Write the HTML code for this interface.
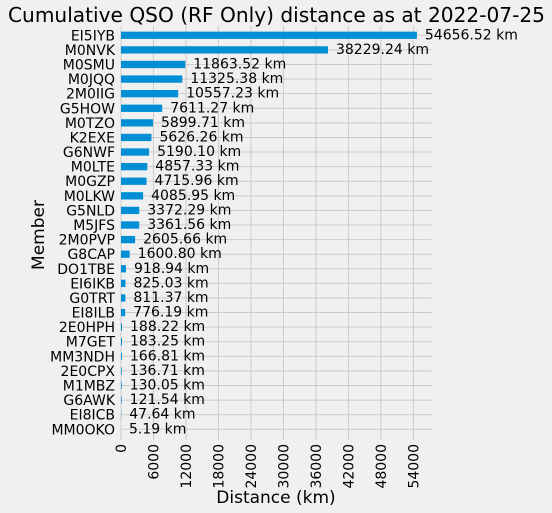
<!DOCTYPE html>
<html><head><meta charset="utf-8">
<style>
html,body{margin:0;padding:0;background:#f0f0f0;}
svg{display:block;font-family:"DejaVu Sans","Liberation Sans",sans-serif;}
</style></head>
<body>
<svg id="chart" width="552" height="513" viewBox="0 0 552 513">
<rect width="552" height="513" fill="#f0f0f0"/>
<text x="8" y="22" font-size="20" textLength="537" lengthAdjust="spacingAndGlyphs" fill="#000">Cumulative QSO (RF Only) distance as at 2022-07-25</text>
<g id="grid"></g><g id="bars"></g><g id="labels"></g>
<text transform="translate(44,235) rotate(-90)" font-size="17" text-anchor="middle">Member</text>
<text x="276" y="503" font-size="17" text-anchor="middle">Distance (km)</text>
</svg>
<script>
const members=["EI5IYB","M0NVK","M0SMU","M0JQQ","2M0IIG","G5HOW","M0TZO","K2EXE","G6NWF","M0LTE","M0GZP","M0LKW","G5NLD","M5JFS","2M0PVP","G8CAP","DO1TBE","EI6IKB","G0TRT","EI8ILB","2E0HPH","M7GET","MM3NDH","2E0CPX","M1MBZ","G6AWK","EI8ICB","MM0OKO"];
const distances=[54656.52,38229.24,11863.52,11325.38,10557.23,7611.27,5899.71,5626.26,5190.10,4857.33,4715.96,4085.95,3372.29,3361.56,2605.66,1600.80,918.94,825.03,811.37,776.19,188.22,183.25,166.81,136.71,130.05,121.54,47.64,5.19];
const xTicks=[0,6000,12000,18000,24000,30000,36000,42000,48000,54000];
const NS="http://www.w3.org/2000/svg";
const x0=121,x1=431.7,yTop=35.3,yBot=429.3;
const xMax=Math.max(...distances)*1.05;
function xs(v){return x0+(v/xMax)*(x1-x0);}
function ys(i){return yTop+i*(yBot-yTop)/(members.length-1);}
function mk(tag,attrs,parent){const e=document.createElementNS(NS,tag);for(const k in attrs)e.setAttribute(k,attrs[k]);parent.appendChild(e);return e;}
const grid=document.getElementById('grid'),bars=document.getElementById('bars'),labels=document.getElementById('labels');
xTicks.forEach(t=>{
  const l=mk('line',{x1:xs(t),x2:xs(t),y1:26,y2:440,stroke:'#cbcbcb','stroke-width':1},grid);
  
  
  const tx=mk('text',{transform:`translate(${xs(t)+5},444) rotate(-90)`,'font-size':14,'text-anchor':'end'},labels);
  tx.textContent=t;
  
  
});
members.forEach((m,i)=>{
  const y=ys(i);
  const g=mk('line',{x1:x0,x2:x1,y1:y,y2:y,stroke:'#cbcbcb','stroke-width':1},grid);
  
  
  const r=mk('rect',{x:x0,y:y-3.65,width:xs(distances[i])-x0,height:7.3,fill:'#008fd5'},bars);
  
  
  const yl=mk('text',{x:115,y:y+5,'font-size':14,'text-anchor':'end'},labels);
  yl.textContent=m;
  
  
  const vl=mk('text',{x:xs(distances[i])+8,y:y+4,'font-size':14},labels);
  vl.textContent=distances[i].toFixed(2)+' km';
  
  
});
</script>
</body></html>
